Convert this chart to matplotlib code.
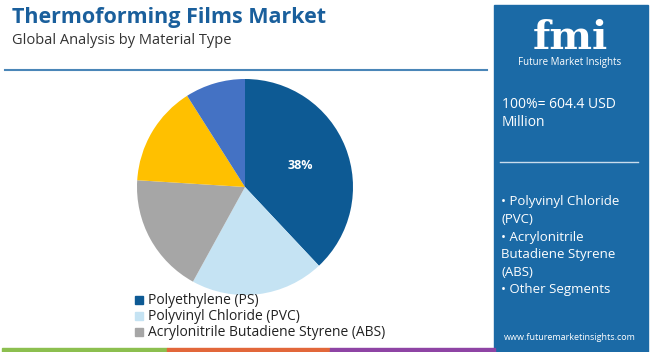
import matplotlib.pyplot as plt
from matplotlib.patches import Rectangle

# data
segments = ["Polyethylene (PS)", "Polyvinyl Chloride (PVC)",
            "Acrylonitrile Butadiene Styrene (ABS)", "Other 1", "Other 2"]
shares = [38, 20, 18, 15, 9]
colors = ["#0d5a94", "#c5e3f3", "#a6a6a6", "#ffc000", "#4472c4"]
legend_items = segments[:3]
side_bullets = ["\u2022 Polyvinyl Chloride", "(PVC)", "\u2022 Acrylonitrile",
                "Butadiene Styrene", "(ABS)", "\u2022 Other Segments"]

W, H = 650, 352
fig = plt.figure(figsize=(W / 100, H / 100), dpi=100)
fig.patch.set_facecolor("white")
plt.rcParams['font.family'] = ['Open Sans', 'DejaVu Sans']


def px(x, y):
    return x / W, 1 - y / H


# title
fig.text(*px(12, 18), "Thermoforming Films Market", fontsize=15.5, fontweight="bold",
         color="#1a5f9c", va="center", ha="left")
fig.text(*px(12, 41), "Global Analysis by Material Type", fontsize=10.5,
         color="#333333", va="center", ha="left")

# separator line
fig.add_artist(plt.Line2D([5 / W, 487 / W], [1 - 70 / H, 1 - 70 / H],
                          color="#4a86b8", lw=1.5))

# pie
r = 108
cx, cy = 245, 187
ax = fig.add_axes([(cx - r) / W, (H - cy - r) / H, 2 * r / W, 2 * r / H])
wedges, _ = ax.pie(shares, colors=colors, startangle=90, counterclock=False,
                   radius=1, wedgeprops=dict(linewidth=0))
ax.set_xlim(-1, 1)
ax.set_ylim(-1, 1)
ax.set_aspect("auto")
ax.axis("off")
ax.text(0.51, 0.195, f"{shares[0]}%", color="white", fontsize=9, fontweight="bold",
        ha="center", va="center")

# legend
for i, lab in enumerate(legend_items):
    y = 300 + i * 16
    fig.add_artist(Rectangle(px(135, y + 4), 8 / W, 8 / H, color=colors[i],
                             transform=fig.transFigure))
    fig.text(*px(148, y), lab, fontsize=10, color="#222222", va="center", ha="left")

# bottom strip
for x0, x1, c in [(2, 167, "#8cbf4f"), (167, 330, "#e2673a"), (330, 495, "#8e44a4")]:
    fig.add_artist(Rectangle(px(x0, 352), (x1 - x0) / W, 4 / H, color=c,
                             transform=fig.transFigure))

# side panel
panel = "#1b6aa6"
fig.add_artist(Rectangle(px(494, 352), (648 - 494) / W, (352 - 5) / H, color=panel,
                         transform=fig.transFigure, zorder=0))
fig.text(*px(570, 49), "fmi", fontsize=29, fontweight="bold", family="DejaVu Serif",
         color="white", ha="center", va="baseline")
for yy in range(18, 50, 4):
    fig.add_artist(plt.Line2D([518 / W, 622 / W], [1 - yy / H, 1 - yy / H],
                              color=panel, lw=0.8))
fig.text(*px(570, 62), "Future Market Insights", fontsize=7, color="white",
         ha="center", va="center")
fig.text(*px(502, 104), "100%= 604.4 USD", fontsize=10, color="white",
         ha="left", va="center")
fig.text(*px(502, 123), "Million", fontsize=10, color="white", ha="left", va="center")
fig.add_artist(plt.Line2D([500 / W, 638 / W], [1 - 162 / H, 1 - 162 / H],
                          color="#c9dced", lw=1))
for i, t in enumerate(side_bullets):
    fig.text(*px(501, 202 + i * 17.6), t, fontsize=9.5, color="white",
             ha="left", va="center")
fig.text(*px(570, 337), "www.futuremarketinsights.com", fontsize=6.5, color="white",
         ha="center", va="center")

fig.savefig("out.png", dpi=100)
